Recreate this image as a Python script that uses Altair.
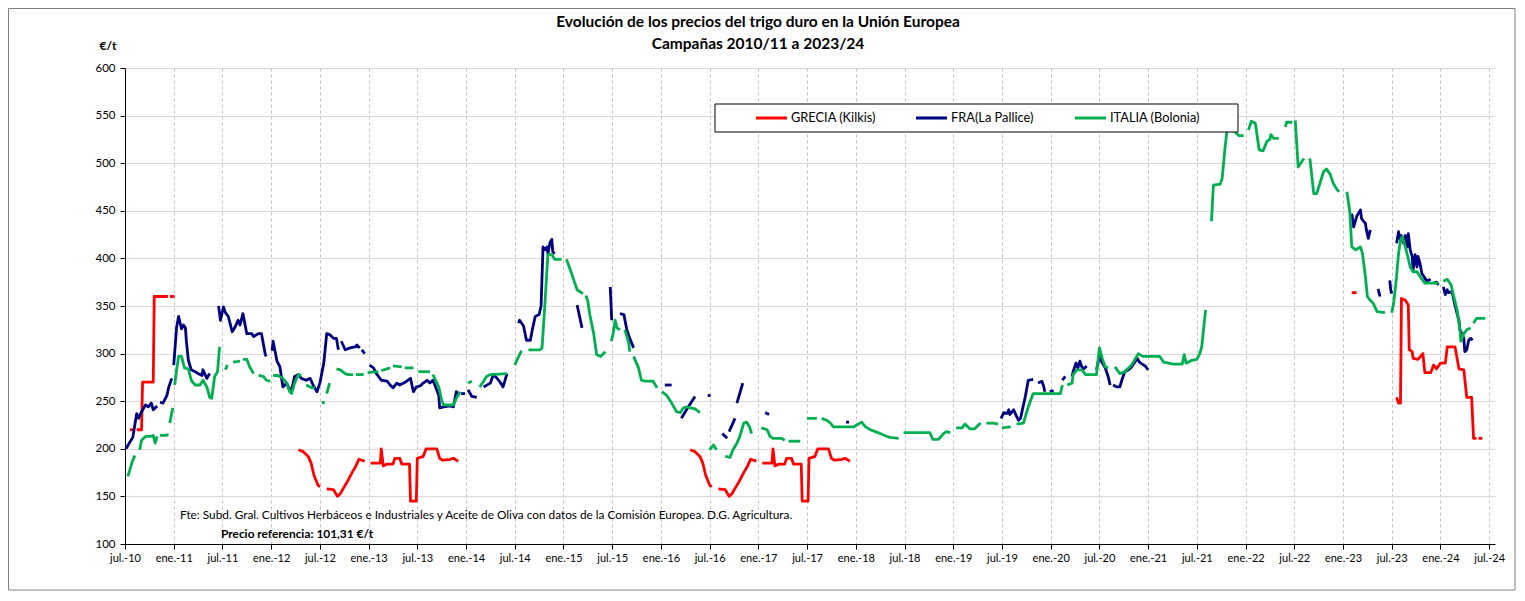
import altair as alt
import pandas as pd

# ---------------- texts ----------------
title_lines = ["Evolución de los precios del trigo duro en la Unión Europea",
               "Campañas 2010/11 a 2023/24"]
unit_label = "€/t"
source_note = ("Fte: Subd. Gral. Cultivos Herbáceos e Industriales y Aceite de Oliva "
               "con datos de la Comisión Europea. D.G. Agricultura.")
reference_note = "Precio referencia: 101,31 €/t"

# ---------------- axes ----------------
x_tick_labels = ["jul.-10", "ene.-11", "jul.-11", "ene.-12", "jul.-12", "ene.-13", "jul.-13",
                 "ene.-14", "jul.-14", "ene.-15", "jul.-15", "ene.-16", "jul.-16", "ene.-17",
                 "jul.-17", "ene.-18", "jul.-18", "ene.-19", "jul.-19", "ene.-20", "jul.-20",
                 "ene.-21", "jul.-21", "ene.-22", "jul.-22", "ene.-23", "jul.-23", "ene.-24",
                 "jul.-24"]
x_tick_values = [2010.5, 2011.0, 2011.5, 2012.0, 2012.5, 2013.0, 2013.5, 2014.0, 2014.5,
                 2015.0, 2015.5, 2016.0, 2016.5, 2017.0, 2017.5, 2018.0, 2018.5, 2019.0,
                 2019.5, 2020.0, 2020.5, 2021.0, 2021.5, 2022.0, 2022.5, 2023.0, 2023.5,
                 2024.0, 2024.5]
y_tick_values = [100, 150, 200, 250, 300, 350, 400, 450, 500, 550, 600]

series_names = ["GRECIA (Kilkis)", "FRA(La Pallice)", "ITALIA (Bolonia)"]
series_colors = ["#FF0000", "#000080", "#00B050"]

# ---------------- data: (fractional year, €/t); None = gap ----------------
grecia = [
    (2010.55, 220), (2010.60, 220), None, (2010.62, 220), (2010.67, 220), (2010.68, 270),
    (2010.79, 270), (2010.80, 360), (2010.94, 360), None, (2010.96, 360), (2011.01, 360), None,
    (2012.28, 199), (2012.33, 197), (2012.38, 192), (2012.41, 185), (2012.44, 172), (2012.48, 162),
    (2012.50, 160), None, (2012.57, 158), (2012.64, 157), (2012.68, 150), (2012.71, 153),
    (2012.75, 160), (2012.79, 167), (2012.83, 175), (2012.87, 182), (2012.90, 189), (2012.96, 187),
    None, (2013.02, 185), (2013.12, 185), (2013.13, 200), (2013.15, 182), (2013.19, 184),
    (2013.25, 184), (2013.27, 190), (2013.32, 190), (2013.34, 184), (2013.42, 184), (2013.43, 145),
    (2013.49, 145), (2013.50, 190), (2013.56, 192), (2013.59, 200), (2013.70, 200), (2013.73, 190),
    (2013.76, 188), (2013.84, 189), (2013.87, 190), (2013.92, 187), None,
    (2016.30, 199), (2016.35, 197), (2016.40, 192), (2016.43, 185), (2016.46, 172), (2016.50, 162),
    (2016.52, 160), None, (2016.59, 158), (2016.66, 157), (2016.70, 150), (2016.73, 153),
    (2016.77, 160), (2016.81, 167), (2016.85, 175), (2016.89, 182), (2016.92, 189), (2016.98, 187),
    None, (2017.04, 185), (2017.14, 185), (2017.15, 200), (2017.17, 182), (2017.21, 184),
    (2017.27, 184), (2017.29, 190), (2017.34, 190), (2017.36, 184), (2017.44, 184), (2017.45, 145),
    (2017.51, 145), (2017.52, 190), (2017.58, 192), (2017.61, 200), (2017.72, 200), (2017.75, 190),
    (2017.78, 188), (2017.86, 189), (2017.89, 190), (2017.94, 187), None,
    (2023.09, 364), (2023.14, 364), None,
    (2023.55, 254), (2023.57, 248), (2023.59, 248), (2023.60, 358), (2023.64, 356), (2023.67, 351),
    (2023.68, 304), (2023.71, 302), (2023.72, 295), (2023.77, 294), (2023.82, 300), (2023.84, 280),
    (2023.90, 280), (2023.93, 288), (2023.96, 284), (2024.00, 290), (2024.05, 290), (2024.07, 307),
    (2024.15, 307), (2024.19, 284), (2024.24, 283), (2024.27, 254), (2024.32, 254), (2024.34, 211),
    (2024.37, 211), None, (2024.39, 211), (2024.43, 211),
]

fra = [
    (2010.51, 200), (2010.55, 207), (2010.58, 212), (2010.62, 237), (2010.64, 232), (2010.67, 239),
    (2010.71, 246), (2010.74, 244), (2010.77, 248), (2010.79, 241), (2010.83, 245), None,
    (2010.86, 249), (2010.89, 248), (2010.93, 256), (2010.95, 265), (2010.98, 274), None,
    (2011.00, 288), (2011.03, 328), (2011.05, 339), (2011.08, 326), (2011.10, 330), (2011.12, 327),
    (2011.13, 313), (2011.15, 293), (2011.18, 283), (2011.22, 281), (2011.25, 279), (2011.29, 277),
    (2011.30, 283), (2011.34, 274), (2011.37, 279), None,
    (2011.46, 350), (2011.48, 335), (2011.51, 349), (2011.53, 343), (2011.56, 339), (2011.60, 323),
    (2011.63, 328), (2011.66, 335), (2011.68, 330), (2011.71, 342), (2011.75, 321), (2011.80, 321),
    (2011.82, 318), (2011.87, 321), (2011.90, 321), (2011.94, 299), (2011.95, 297), None,
    (2012.01, 303), (2012.02, 313), (2012.06, 292), (2012.09, 286), (2012.12, 265), (2012.16, 269),
    (2012.18, 264), (2012.21, 262), (2012.24, 276), (2012.28, 278), (2012.31, 274), (2012.36, 272),
    (2012.40, 274), (2012.43, 267), (2012.47, 260), (2012.50, 269), (2012.54, 290), (2012.57, 321),
    (2012.60, 320), (2012.64, 316), (2012.67, 316), (2012.69, 304), None,
    (2012.72, 313), (2012.76, 304), (2012.81, 306), (2012.86, 307), (2012.88, 309), (2012.91, 306),
    None, (2012.93, 304), (2012.96, 300), None,
    (2013.01, 288), (2013.05, 285), (2013.08, 279), (2013.13, 272), (2013.19, 271), (2013.22, 267),
    (2013.25, 264), (2013.29, 269), (2013.32, 267), (2013.36, 269), (2013.39, 271), (2013.43, 274),
    (2013.46, 260), (2013.49, 265), (2013.53, 266), (2013.56, 269), (2013.60, 272), (2013.63, 269),
    (2013.66, 272), (2013.68, 267), (2013.72, 256), (2013.73, 243), (2013.77, 244), (2013.84, 245),
    (2013.87, 244), (2013.90, 260), (2013.92, 258), None,
    (2013.95, 258), (2013.99, 258), None, (2014.02, 262), (2014.06, 255), (2014.11, 254), None,
    (2014.18, 265), (2014.25, 269), (2014.28, 278), (2014.31, 275), (2014.35, 270), (2014.38, 265),
    (2014.42, 279), None,
    (2014.54, 332), (2014.55, 335), (2014.59, 329), (2014.62, 314), (2014.66, 314), (2014.68, 325),
    (2014.71, 339), (2014.75, 341), (2014.77, 350), (2014.79, 412), (2014.81, 409), (2014.83, 412),
    (2014.84, 405), (2014.86, 416), (2014.88, 420), (2014.89, 407), (2014.91, 405), None,
    (2015.14, 351), (2015.19, 327), None,
    (2015.48, 370), (2015.495, 335), None,
    (2015.58, 342), (2015.62, 341), (2015.65, 325), (2015.68, 316), (2015.72, 306), None,
    (2016.04, 267), (2016.11, 267), None,
    (2016.21, 232), (2016.28, 244), (2016.35, 255), None,
    (2016.48, 256), (2016.51, 256), None,
    (2016.63, 216), (2016.68, 211), None,
    (2016.70, 218), (2016.76, 232), None,
    (2016.78, 248), (2016.84, 269), None,
    (2017.07, 238), (2017.11, 236), None,
    (2017.90, 228), (2017.93, 228), None,
    (2019.49, 232), (2019.52, 238), (2019.55, 237), (2019.57, 241), (2019.58, 236), (2019.62, 241),
    (2019.65, 234), (2019.67, 230), (2019.69, 232), (2019.74, 255), (2019.77, 272), (2019.82, 273),
    None, (2019.87, 269), (2019.91, 271), (2019.93, 265), (2019.94, 260), None,
    (2019.99, 260), (2020.03, 261), None, (2020.12, 272), (2020.15, 276), None,
    (2020.22, 276), (2020.23, 281), (2020.26, 290), (2020.28, 285), (2020.30, 292), (2020.32, 286),
    (2020.34, 284), (2020.37, 287), None,
    (2020.47, 283), (2020.50, 297), (2020.53, 290), (2020.56, 285), (2020.59, 276), (2020.61, 267),
    None, (2020.64, 267), (2020.68, 265), (2020.71, 265), (2020.73, 272), (2020.76, 281),
    (2020.80, 283), (2020.83, 286), (2020.87, 292), (2020.89, 295), (2020.91, 291), (2020.94, 289),
    (2020.97, 287), (2021.00, 283), None,
    (2023.09, 447), (2023.11, 433), (2023.14, 444), (2023.18, 451), (2023.19, 442), (2023.21, 439),
    (2023.23, 437), (2023.24, 430), (2023.26, 421), (2023.28, 430), None,
    (2023.36, 368), (2023.38, 360), None,
    (2023.48, 377), (2023.49, 367), (2023.50, 363), None,
    (2023.55, 416), (2023.57, 428), (2023.59, 419), (2023.60, 424), (2023.62, 416), (2023.64, 424),
    (2023.66, 412), (2023.67, 426), (2023.69, 409), (2023.71, 402), (2023.72, 388), (2023.74, 404),
    (2023.76, 391), (2023.77, 402), (2023.79, 395), (2023.81, 384), (2023.83, 381), (2023.86, 376),
    (2023.90, 378), None, (2023.93, 374), (2023.96, 375), (2023.98, 372), None,
    (2024.03, 370), (2024.05, 362), (2024.07, 367), (2024.08, 364), (2024.12, 365), (2024.13, 360),
    (2024.15, 350), (2024.19, 335), (2024.20, 325), (2024.22, 321), (2024.24, 316), (2024.25, 302),
    (2024.27, 304), (2024.29, 314), (2024.31, 316), (2024.33, 314),
]

italia = [
    (2010.53, 171), (2010.57, 185), (2010.60, 193), None,
    (2010.65, 199), (2010.67, 209), (2010.71, 213), (2010.76, 213), (2010.79, 214), (2010.81, 206),
    (2010.83, 213), None, (2010.86, 214), (2010.93, 214), (2010.94, 216), None,
    (2010.96, 227), (2010.99, 243), None,
    (2011.01, 267), (2011.03, 283), (2011.05, 297), (2011.08, 297), (2011.11, 285), (2011.15, 284),
    (2011.18, 272), (2011.22, 267), (2011.27, 267), (2011.30, 272), (2011.34, 265), (2011.37, 254),
    (2011.39, 253), (2011.42, 276), (2011.45, 281), (2011.47, 307), None,
    (2011.53, 283), (2011.55, 288), None, (2011.61, 291), (2011.68, 292), None,
    (2011.71, 294), (2011.75, 294), (2011.78, 286), (2011.82, 279), None,
    (2011.87, 277), (2011.92, 276), (2011.95, 272), (2011.99, 271), None,
    (2012.02, 277), (2012.07, 277), (2012.12, 274), (2012.16, 269), (2012.19, 260), (2012.21, 258),
    (2012.24, 269), (2012.28, 278), (2012.31, 277), None,
    (2012.36, 267), (2012.42, 264), (2012.45, 264), None,
    (2012.52, 248), (2012.55, 249), None, (2012.57, 258), (2012.60, 269), None,
    (2012.67, 284), (2012.71, 283), (2012.76, 279), (2012.79, 278), (2012.84, 278), None,
    (2012.87, 278), (2012.95, 278), None, (2012.99, 280), (2013.10, 281), None,
    (2013.13, 282), (2013.22, 285), None, (2013.25, 287), (2013.34, 286), None,
    (2013.37, 285), (2013.46, 285), None, (2013.51, 281), (2013.63, 281), None,
    (2013.66, 278), (2013.72, 265), (2013.75, 251), (2013.77, 246), (2013.87, 246), (2013.90, 253),
    (2013.94, 260), None, (2014.02, 269), (2014.06, 271), None,
    (2014.14, 265), (2014.18, 271), (2014.21, 276), (2014.25, 278), (2014.42, 279), None,
    (2014.50, 288), (2014.54, 297), (2014.57, 303), None,
    (2014.64, 304), (2014.76, 304), (2014.78, 306), (2014.81, 353), (2014.84, 404), (2014.88, 404),
    (2014.91, 399), (2014.98, 399), None,
    (2015.03, 399), (2015.07, 388), (2015.10, 379), (2015.14, 367), (2015.17, 365), (2015.20, 363),
    None, (2015.23, 361), (2015.25, 355), (2015.27, 341), (2015.31, 321), (2015.34, 299),
    (2015.38, 297), (2015.43, 302), None,
    (2015.49, 313), (2015.51, 321), (2015.53, 335), (2015.55, 327), (2015.58, 325), None,
    (2015.63, 325), (2015.67, 311), (2015.68, 302), None,
    (2015.72, 297), (2015.77, 285), (2015.80, 272), (2015.84, 271), (2015.92, 271), (2015.96, 264),
    None, (2016.01, 260), (2016.06, 256), (2016.11, 248), (2016.16, 239), (2016.20, 238),
    (2016.23, 243), (2016.27, 244), (2016.30, 243), (2016.35, 242), (2016.40, 238), None,
    (2016.50, 199), (2016.54, 204), (2016.57, 199), None,
    (2016.66, 192), (2016.71, 191), (2016.74, 199), (2016.78, 206), (2016.81, 213), (2016.85, 227),
    (2016.88, 228), (2016.91, 223), (2016.93, 216), None,
    (2017.03, 222), (2017.09, 220), (2017.12, 213), (2017.15, 211), (2017.24, 211), (2017.27, 209),
    None, (2017.31, 208), (2017.43, 208), None, (2017.50, 232), (2017.60, 232), None,
    (2017.65, 232), (2017.70, 230), (2017.74, 227), (2017.77, 223), (2017.98, 223), (2018.01, 225),
    (2018.06, 228), (2018.10, 223), (2018.15, 220), (2018.20, 218), (2018.25, 216), (2018.32, 213),
    (2018.35, 212), (2018.44, 211), None,
    (2018.49, 217), (2018.76, 217), (2018.79, 210), (2018.85, 210), (2018.90, 216), (2018.93, 218),
    (2018.97, 217), None,
    (2019.03, 222), (2019.09, 222), (2019.12, 226), (2019.17, 221), (2019.22, 221), (2019.28, 227),
    None, (2019.34, 227), (2019.41, 227), (2019.46, 226), None, (2019.50, 222), (2019.59, 223), None,
    (2019.65, 226), (2019.72, 227), (2019.77, 244), (2019.82, 258), (2020.10, 258), (2020.12, 267),
    None, (2020.17, 267), (2020.22, 269), (2020.23, 278), (2020.27, 283), (2020.32, 283),
    (2020.36, 278), (2020.47, 278), (2020.50, 306), (2020.53, 295), (2020.56, 286), (2020.59, 285),
    None, (2020.66, 286), (2020.71, 279), (2020.76, 281), (2020.83, 288), (2020.90, 300),
    (2020.95, 297), (2021.12, 297), (2021.16, 291), (2021.26, 289), (2021.35, 289), (2021.37, 299),
    (2021.39, 290), (2021.45, 293), (2021.50, 294), (2021.53, 300), (2021.55, 307), (2021.59, 346),
    None,
    (2021.65, 439), (2021.67, 477), (2021.74, 478), (2021.76, 484), (2021.79, 517), (2021.81, 535),
    (2021.83, 556), (2021.86, 545), (2021.89, 533), (2021.93, 529), (2021.98, 529), None,
    (2022.03, 535), (2022.06, 544), (2022.10, 542), (2022.12, 528), (2022.14, 514), (2022.18, 513),
    (2022.22, 523), (2022.25, 525), (2022.26, 530), (2022.29, 526), (2022.34, 526), None,
    (2022.41, 538), (2022.42, 543), (2022.48, 543), None,
    (2022.51, 545), (2022.54, 496), (2022.58, 502), (2022.60, 505), None,
    (2022.66, 505), (2022.70, 468), (2022.73, 468), (2022.77, 481), (2022.80, 491), (2022.83, 494),
    (2022.87, 488), (2022.90, 479), (2022.94, 472), (2022.96, 470), None,
    (2023.04, 470), (2023.07, 449), (2023.09, 412), (2023.13, 409), (2023.18, 412), (2023.20, 405),
    (2023.23, 381), (2023.25, 360), (2023.28, 356), (2023.31, 353), (2023.35, 344), (2023.43, 343),
    None,
    (2023.50, 343), (2023.52, 353), (2023.55, 381), (2023.57, 405), (2023.59, 419), (2023.61, 423),
    (2023.64, 412), (2023.66, 404), (2023.69, 391), (2023.72, 386), (2023.76, 386), (2023.79, 381),
    (2023.84, 374), (2023.98, 374), None,
    (2024.03, 376), (2024.07, 378), (2024.11, 372), (2024.13, 363), (2024.17, 346), (2024.20, 325),
    (2024.21, 313), (2024.24, 321), (2024.27, 325), (2024.31, 327), None,
    (2024.34, 332), (2024.37, 337), (2024.46, 337),
]


def build(points, name):
    rows, seg = [], 0
    for p in points:
        if p is None:
            seg += 1
            continue
        rows.append({"t": p[0], "v": p[1], "seg": seg, "serie": name})
    return pd.DataFrame(rows)


FONT = "Lato"
label_expr = "[" + ",".join("'%s'" % s for s in x_tick_labels) + "][round((datum.value - 2010.5) * 2)]"

x_enc = alt.X(
    "t:Q",
    scale=alt.Scale(domain=[2010.5, 2024.56], nice=False, zero=False),
    axis=alt.Axis(values=x_tick_values, labelExpr=label_expr, title=None, grid=True,
                  gridDash=[3, 3], gridColor="#BFBFBF", gridWidth=1, domainColor="black",
                  tickColor="black", tickSize=5, labelFontSize=11, labelColor="black",
                  labelFont=FONT, labelPadding=3, labelOverlap=False, labelFlush=False),
)
y_enc = alt.Y(
    "v:Q",
    scale=alt.Scale(domain=[100, 600], nice=False, zero=False),
    axis=alt.Axis(values=y_tick_values, title=None, grid=True, gridColor="#D9D9D9",
                  gridWidth=1, domainColor="black", tickColor="black", tickSize=5,
                  labelFontSize=11.5, labelColor="black", labelFont=FONT, labelPadding=5,
                  labelFlush=False),
)

layers = []
for pts, name, col in zip([grecia, fra, italia], series_names, series_colors):
    df = build(pts, name)
    layers.append(
        alt.Chart(df).mark_line(color=col, strokeWidth=2.8, strokeJoin="round")
        .encode(x=x_enc, y=y_enc, detail="seg:N", order="t:Q")
    )

one = pd.DataFrame({"k": [0]})

# legend box (manual, as in the original)
layers.append(
    alt.Chart(one).mark_rect(fill="white", stroke="black", strokeWidth=1)
    .encode(x=alt.value(590), x2=alt.value(1113), y=alt.value(36), y2=alt.value(64))
)
legend_x = [631, 791, 950]
for name, col, lx in zip(series_names, series_colors, legend_x):
    layers.append(
        alt.Chart(one).mark_rule(color=col, strokeWidth=3)
        .encode(x=alt.value(lx), x2=alt.value(lx + 31), y=alt.value(50))
    )
    layers.append(
        alt.Chart(one).mark_text(align="left", baseline="middle", font=FONT, fontSize=12.8,
                                 color="black")
        .encode(x=alt.value(lx + 35), y=alt.value(50), text=alt.value(name))
    )

# titles and notes
layers.append(
    alt.Chart(one).mark_text(align="center", baseline="middle", font=FONT, fontSize=15.5,
                             fontWeight="bold", color="black")
    .encode(x=alt.value(633), y=alt.value(-46), text=alt.value(title_lines[0]))
)
layers.append(
    alt.Chart(one).mark_text(align="center", baseline="middle", font=FONT, fontSize=15.5,
                             fontWeight="bold", color="black")
    .encode(x=alt.value(633), y=alt.value(-24), text=alt.value(title_lines[1]))
)
layers.append(
    alt.Chart(one).mark_text(align="center", baseline="middle", font=FONT, fontSize=12,
                             fontWeight="bold", color="black")
    .encode(x=alt.value(-17), y=alt.value(-22), text=alt.value(unit_label))
)
layers.append(
    alt.Chart(one).mark_text(align="left", baseline="middle", font=FONT, fontSize=11.8,
                             color="black")
    .encode(x=alt.value(55), y=alt.value(447), text=alt.value(source_note))
)
layers.append(
    alt.Chart(one).mark_text(align="left", baseline="middle", font=FONT, fontSize=11.9,
                             fontWeight="bold", color="black")
    .encode(x=alt.value(96), y=alt.value(466), text=alt.value(reference_note))
)
# outer chart frame
layers.append(
    alt.Chart(one).mark_rect(fillOpacity=0, stroke="#808080", strokeWidth=1)
    .encode(x=alt.value(-116.5), x2=alt.value(1390), y=alt.value(-59.5), y2=alt.value(522))
)

chart = (
    alt.layer(*layers)
    .properties(width=1370, height=476,
                padding={"left": 117, "top": 60, "right": 22, "bottom": 49},
                autosize=alt.AutoSizeParams(type="none"), background="white")
    .configure_view(stroke=None)
)

chart.save("out.html", embed_options={"renderer": "svg", "actions": False})
